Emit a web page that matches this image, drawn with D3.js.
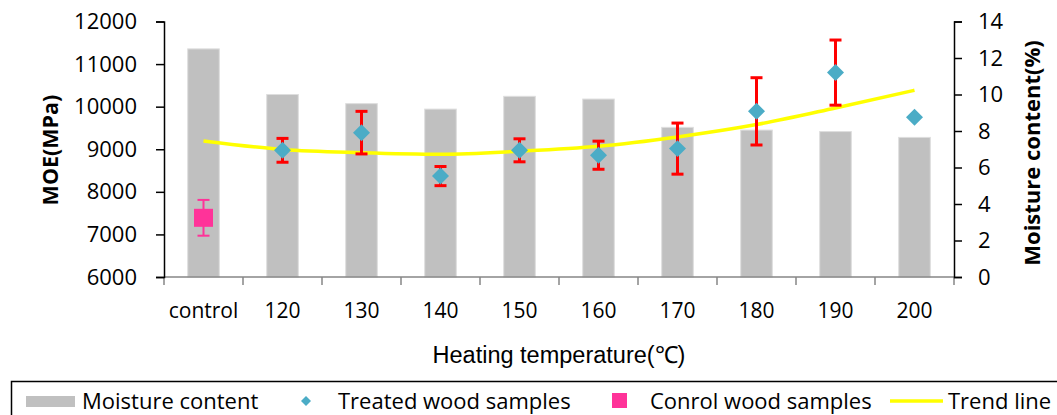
<!DOCTYPE html>
<html><head><meta charset="utf-8">
<script src="https://cdn.jsdelivr.net/npm/d3@7"></script>
<style>
html,body{margin:0;padding:0;background:#fff;}
svg{display:block;}
</style></head>
<body>
<svg id="chart" width="1057" height="415"></svg>
<script>
const categories = ["control","120","130","140","150","160","170","180","190","200"];
const moisture = [12.5, 10.0, 9.5, 9.2, 9.9, 9.75, 8.2, 8.05, 7.97, 7.65];
const treatedCats = ["120","130","140","150","160","170","180","190","200"];
const treatedMOE = [8975, 9390, 8370, 8975, 8860, 9015, 9890, 10800, 9750];
const treatedErr = [280, 500, 225, 270, 330, 600, 790, 765, 0];
const controlMOE = [7390];
const controlErr = [420];
const trendMOE = [9195, 8995, 8920, 8885, 8955, 9070, 9290, 9580, 9970, 10385];
const leftTicks = [6000,7000,8000,9000,10000,11000,12000];
const rightTicks = [0,2,4,6,8,10,12,14];

const svg = d3.select("#chart");
const L = 164, R = 954, T = 21.5, B = 277;

const x = d3.scaleBand().domain(categories).range([L, R]).paddingInner(0.6).paddingOuter(0.3);
const yL = d3.scaleLinear().domain([6000, 12000]).range([B, T]);
const yR = d3.scaleLinear().domain([0, 14]).range([B, T]);
const cx = d => x(d) + x.bandwidth() / 2;

const tickFont = "'Open Sans', sans-serif";

// bars
svg.append("g").selectAll("rect").data(categories).join("rect")
  .attr("x", d => x(d)).attr("width", x.bandwidth())
  .attr("y", (d,i) => yR(moisture[i])).attr("height", (d,i) => B - yR(moisture[i]))
  .attr("fill", "#c0c0c0").attr("stroke", "#dedede").attr("stroke-width", 1);

// x axis line + ticks
const gx = svg.append("g");
gx.append("line").attr("x1", L).attr("x2", R).attr("y1", B).attr("y2", B)
  .attr("stroke", "#868686").attr("stroke-width", 1.5);
const bounds = categories.map(d => x(d) - (x.step() - x.bandwidth()) / 2).concat([R]);
gx.selectAll("line.t").data(bounds).join("line").attr("class","t")
  .attr("x1", d => d).attr("x2", d => d).attr("y1", B).attr("y2", B + 8)
  .attr("stroke", "#868686").attr("stroke-width", 1.5);
gx.selectAll("text").data(categories).join("text")
  .attr("x", d => cx(d)).attr("y", 318).attr("text-anchor", "middle")
  .attr("font-family", tickFont).attr("font-size", 21).attr("fill", "#000")
  .text(d => d);

// left axis
const gl = svg.append("g").attr("transform", `translate(${L},0)`)
  .call(d3.axisLeft(yL).tickValues(leftTicks).tickSize(8).tickPadding(19).tickFormat(d3.format("d")));
gl.select(".domain").attr("stroke", "#000").attr("stroke-width", 1.5);
gl.selectAll(".tick line").attr("stroke", "#000").attr("stroke-width", 1.5);
gl.selectAll(".tick text").attr("font-family", tickFont).attr("font-size", 22).attr("fill", "#000");

// right axis
const gr = svg.append("g").attr("transform", `translate(${R},0)`)
  .call(d3.axisRight(yR).tickValues(rightTicks).tickSize(8).tickPadding(16).tickFormat(d3.format("d")));
gr.select(".domain").attr("stroke", "#000").attr("stroke-width", 1.5);
gr.selectAll(".tick line").attr("stroke", "#000").attr("stroke-width", 1.5);
gr.selectAll(".tick text").attr("font-family", tickFont).attr("font-size", 22).attr("fill", "#000");

// axis titles
svg.append("text").attr("transform", "translate(58,150) rotate(-90)")
  .attr("text-anchor", "middle").attr("font-family", tickFont).attr("font-weight", "bold")
  .attr("font-size", 21.5).text("MOE(MPa)");
svg.append("text").attr("transform", "translate(1040,153) rotate(-90)")
  .attr("text-anchor", "middle").attr("font-family", tickFont).attr("font-weight", "bold")
  .attr("font-size", 22).text("Moisture content(%)");
svg.append("text").attr("x", 559).attr("y", 363).attr("text-anchor", "middle")
  .attr("font-family", "'Liberation Sans', Arial, sans-serif").attr("font-size", 23.5)
  .text("Heating temperature(℃)");

// trend line
const line = d3.line().x((d,i) => cx(categories[i])).y(d => yL(d)).curve(d3.curveMonotoneX);
svg.append("path").datum(trendMOE).attr("d", line).attr("fill", "none")
  .attr("stroke", "#ffff00").attr("stroke-width", 3.5);

// treated error bars
const ge = svg.append("g");
treatedCats.forEach((c, i) => {
  const e = treatedErr[i];
  if (!e) return;
  const xc = cx(c), y1 = yL(treatedMOE[i] + e), y2 = yL(treatedMOE[i] - e);
  ge.append("line").attr("x1", xc).attr("x2", xc).attr("y1", y1).attr("y2", y2)
    .attr("stroke", "#ff0000").attr("stroke-width", 3);
  [y1, y2].forEach(yy => ge.append("line").attr("x1", xc - 6).attr("x2", xc + 6)
    .attr("y1", yy).attr("y2", yy).attr("stroke", "#ff0000").attr("stroke-width", 3));
});

// treated diamonds
const dsym = d3.symbol().type(d3.symbolSquare).size(144);
svg.append("g").selectAll("path").data(treatedCats).join("path")
  .attr("d", dsym)
  .attr("transform", (d,i) => `translate(${cx(d)},${yL(treatedMOE[i])}) rotate(45)`)
  .attr("fill", "#4bacc6");

// control error + square
controlMOE.forEach((v, i) => {
  const xc = cx("control"), y1 = yL(v + controlErr[i]), y2 = yL(v - controlErr[i]);
  svg.append("line").attr("x1", xc).attr("x2", xc).attr("y1", y1).attr("y2", y2)
    .attr("stroke", "#ff3399").attr("stroke-width", 2);
  [y1, y2].forEach(yy => svg.append("line").attr("x1", xc - 6).attr("x2", xc + 6)
    .attr("y1", yy).attr("y2", yy).attr("stroke", "#ff3399").attr("stroke-width", 2));
  svg.append("rect").attr("x", xc - 9.5).attr("y", yL(v) - 9).attr("width", 19).attr("height", 18)
    .attr("fill", "#ff3399");
});

// legend
const lg = svg.append("g");
const lf = 22;
lg.append("rect").attr("x", 11.5).attr("y", 381.5).attr("width", 1100).attr("height", 60)
  .attr("fill", "none").attr("stroke", "#000").attr("stroke-width", 1.5);
lg.append("rect").attr("x", 26).attr("y", 396).attr("width", 49).attr("height", 11).attr("fill", "#c0c0c0");
lg.append("text").attr("x", 82).attr("y", 408.5).attr("font-family", tickFont).attr("font-size", lf).text("Moisture content");
lg.append("path").attr("d", d3.symbol().type(d3.symbolSquare).size(50))
  .attr("transform", "translate(306,401) rotate(45)").attr("fill", "#4bacc6");
lg.append("text").attr("x", 338).attr("y", 408.5).attr("font-family", tickFont).attr("font-size", lf).text("Treated wood samples");
lg.append("rect").attr("x", 612).attr("y", 393).attr("width", 15).attr("height", 15).attr("fill", "#ff3399");
lg.append("text").attr("x", 650).attr("y", 408.5).attr("font-family", tickFont).attr("font-size", lf).text("Conrol wood samples");
lg.append("line").attr("x1", 890).attr("x2", 943).attr("y1", 401).attr("y2", 401)
  .attr("stroke", "#ffff00").attr("stroke-width", 3.5);
lg.append("text").attr("x", 948).attr("y", 408.5).attr("font-family", tickFont).attr("font-size", lf).text("Trend line");
</script>
</body></html>
